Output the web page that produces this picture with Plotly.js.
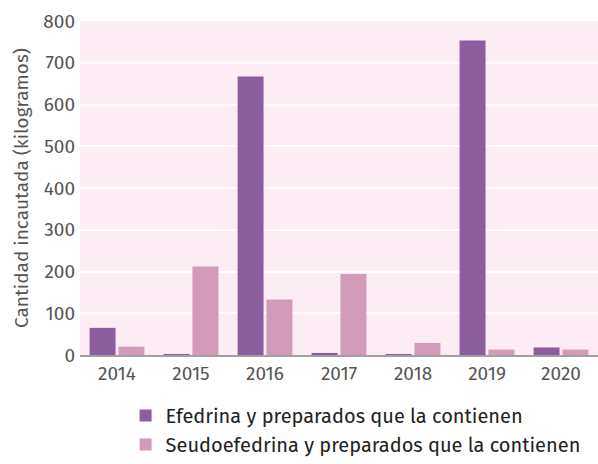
<!DOCTYPE html>
<html><head><meta charset="utf-8">
<script src="https://cdn.plot.ly/plotly-3.0.1.min.js"></script>
<style>body{margin:0;padding:0;background:#fff}#chart{width:598px;height:464px}</style>
</head><body><div id="chart"></div>
<script>
const years = ["2014","2015","2016","2017","2018","2019","2020"];
const efedrina = [65, 2, 667, 5, 1.5, 753, 18];
const seudoefedrina = [20, 212, 133, 194, 29, 13, 13];
const seriesNames = ["Efedrina y preparados que la contienen", "Seudoefedrina y preparados que la contienen"];
const yTicks = [0,100,200,300,400,500,600,700,800];

const font = "'Fira Sans', 'Open Sans', 'Noto Sans', sans-serif";
const data = [
  {type:"bar", x:years, y:efedrina, name:seriesNames[0], marker:{color:"#8c5f9c"}},
  {type:"bar", x:years, y:seudoefedrina, name:seriesNames[1], marker:{color:"#d39aba"}}
];
const layout = {
  width:598, height:464,
  margin:{l:80, r:0, t:21, b:109},
  paper_bgcolor:"#ffffff", plot_bgcolor:"#fcedf5",
  barmode:"group", bargap:0.22, bargroupgap:0.1,
  font:{family:font, color:"#555", size:19},
  xaxis:{type:"category", showgrid:false, showline:true, linecolor:"#a0a0a0", linewidth:2, ticks:"", tickfont:{size:19,color:"#555"}},
  yaxis:{range:[0,800], tickvals:yTicks, gridcolor:"#ffffff", gridwidth:2, zeroline:false, showline:false, ticks:"", ticklabelstandoff:4, tickfont:{size:19,color:"#555"},
    title:{text:"Cantidad incautada (kilogramos)", font:{size:19,color:"#555"}, standoff:9}},
  showlegend:true,
  legend:{orientation:"v", x:0.088, xanchor:"left", y:-0.123, yanchor:"top", font:{size:20,color:"#222"}, tracegroupgap:3, traceorder:"normal"}
};
Plotly.newPlot("chart", data, layout, {displayModeBar:false});
</script></body></html>
